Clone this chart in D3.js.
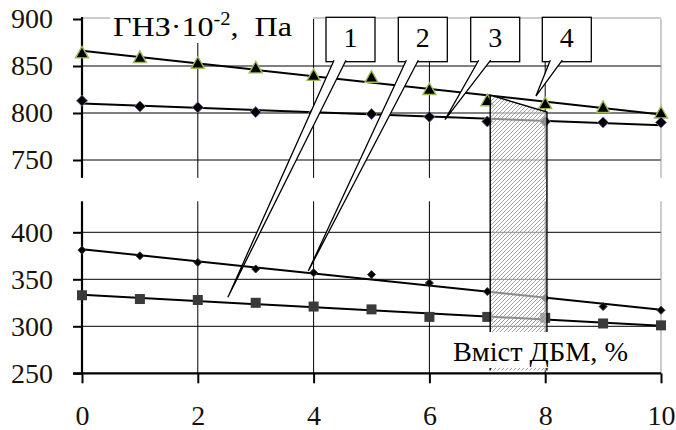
<!DOCTYPE html>
<html><head><meta charset="utf-8">
<script src="https://cdn.jsdelivr.net/npm/d3@7/dist/d3.min.js"></script>
<style>html,body{margin:0;padding:0;background:#fff}svg{display:block}</style>
</head><body>
<svg id="c" width="676" height="430"></svg>
<script>
// ---- data ----
const xValues = [0,1,2,3,4,5,6,7,8,9,10];
const series1 = [333,329,328,325,321,318,310,310,309,303,301];   // squares (1)
const series2 = [381,375,368,361,357,355,346,337,330,321,317];   // small diamonds (2)
const series3 = [813,807,806,801,800,799,796,791,791,790,790];   // diamonds (3)
const series4 = [864,859,853,848,840,838,825,813,810,806,800];   // triangles (4)
const xTicks = [0,2,4,6,8,10];
const yTicksTop = [750,800,850,900];
const yTicksBottom = [250,300,350,400];
const calloutLabels = ["1","2","3","4"];
const calloutTipX = [2.52, 3.91, 6.27, 7.84];
const calloutTipY = [331, 359, 793, 818];
const calloutTipPanel = ["bottom","bottom","top","top"];
const hatchX = [7.05, 8.03];
const hatchTop = [819, 801];
const hatchBottom = 253;
const yTitle = "ГНЗ·10";
const xTitle = "Вміст ДБМ, %";

// ---- scales ----
const x = d3.scaleLinear([0,10],[82,661]);
const yT = d3.scaleLinear([750,900],[160,19]);
const yB = d3.scaleLinear([250,400],[373.3,232.3]);
const topMin = 731, botMax = 433;

const svg = d3.select("#c");
const serif = "'Liberation Serif','Times New Roman',serif";

// gridlines
function grid(g, yScale, ticks, yLo, yHi){
  g.selectAll("line.h").data(ticks).join("line")
    .attr("x1",x(0)).attr("x2",x(10))
    .attr("y1",d=>yScale(d)).attr("y2",d=>yScale(d))
    .attr("stroke","#000").attr("stroke-width",1);
  g.selectAll("line.v").data(xTicks.slice(1)).join("line")
    .attr("x1",d=>x(d)).attr("x2",d=>x(d))
    .attr("y1",yLo).attr("y2",yHi)
    .attr("stroke",d=>d===10?"#999":"#000").attr("stroke-width",1);
}
const gT = svg.append("g");
grid(gT, yT, yTicksTop.filter(d=>d<900), yT(900), yT(topMin));
gT.append("line").attr("x1",x(0)).attr("x2",x(10)).attr("y1",yT(900)-1).attr("y2",yT(900)-1).attr("stroke","#999");
const gB = svg.append("g");
grid(gB, yB, yTicksBottom.filter(d=>d>250), yB(botMax), yB(250));

// axes
const axT = svg.append("g").attr("transform",`translate(${x(0)},0)`)
  .call(d3.axisLeft(yT).tickValues(yTicksTop).tickSize(9).tickSizeOuter(0).tickPadding(20));
axT.select(".domain").remove();
svg.append("line").attr("x1",x(0)).attr("x2",x(0)).attr("y1",yT(900)-2).attr("y2",yT(topMin)).attr("stroke","#000").attr("stroke-width",2.2);
const axB = svg.append("g").attr("transform",`translate(${x(0)},0)`)
  .call(d3.axisLeft(yB).tickValues(yTicksBottom).tickSize(9).tickSizeOuter(0).tickPadding(20));
axB.select(".domain").remove();
svg.append("line").attr("x1",x(0)).attr("x2",x(0)).attr("y1",yB(botMax)).attr("y2",yB(250)+1).attr("stroke","#000").attr("stroke-width",2.2);
const axX = svg.append("g").attr("transform",`translate(0,${yB(250)})`)
  .call(d3.axisBottom(x).tickValues(xTicks).tickSize(10).tickSizeOuter(0).tickPadding(22));
axX.select(".domain").remove();
svg.append("line").attr("x1",x(0)-9).attr("x2",x(10)).attr("y1",yB(250)).attr("y2",yB(250)).attr("stroke","#000").attr("stroke-width",2.2);
[axT,axB,axX].forEach(a=>{
  a.selectAll(".tick line").attr("stroke","#000").attr("stroke-width",2);
  a.selectAll(".tick text").attr("font-family",serif).attr("font-size",28).attr("fill","#1a1208");
});

// series
function regress(vals){
  const mx=d3.mean(xValues), my=d3.mean(vals);
  const s=d3.sum(xValues,(xx,i)=>(xx-mx)*(vals[i]-my))/d3.sum(xValues,xx=>(xx-mx)**2);
  return [[0,my-s*mx],[10,my+s*(10-mx)]];
}
function drawSeries(vals, yScale, marker){
  const r = regress(vals);
  svg.append("line").attr("x1",x(r[0][0])).attr("y1",yScale(r[0][1]))
    .attr("x2",x(r[1][0])).attr("y2",yScale(r[1][1]))
    .attr("stroke","#000").attr("stroke-width",2);
  const g = svg.append("g");
  xValues.forEach((xx,i)=>marker(g, x(xx), yScale(vals[i])));
}
const tri = (g,cx,cy)=>g.append("path").attr("d",`M${cx},${cy-6.5}L${cx+6.5},${cy+5}L${cx-6.5},${cy+5}Z`)
  .attr("fill","#000").attr("stroke","#9bbb59").attr("stroke-width",1.4);
const dia = (s,fill,stroke)=>(g,cx,cy)=>g.append("path").attr("d",`M${cx},${cy-s}L${cx+s},${cy}L${cx},${cy+s}L${cx-s},${cy}Z`)
  .attr("fill",fill).attr("stroke",stroke).attr("stroke-width",1);
const sq = (g,cx,cy)=>g.append("rect").attr("x",cx-5).attr("y",cy-5).attr("width",10).attr("height",10).attr("fill","#3a3a3a");
drawSeries(series4, yT, tri);
drawSeries(series3, yT, dia(5.5,"#000","#8064a2"));
drawSeries(series2, yB, dia(4,"#000","#333"));
drawSeries(series1, yB, sq);

// hatch area
const defs = svg.append("defs");
const pat = defs.append("pattern").attr("id","hatch").attr("patternUnits","userSpaceOnUse").attr("width",4).attr("height",4);
pat.append("rect").attr("width",4).attr("height",4).attr("fill","rgba(255,255,255,0.55)");
pat.append("path").attr("d","M-1,1L1,-1M0,4L4,0M3,5L5,3").attr("stroke","#8a8a8a").attr("stroke-width",0.8);
const hx0=x(hatchX[0]), hx1=x(hatchX[1]);
const ht0=yT(hatchTop[0]), ht1=yT(hatchTop[1]), hb=yB(hatchBottom);
svg.append("path").attr("d",`M${hx0},${ht0}L${hx1},${ht1}L${hx1},${hb}L${hx0},${hb}Z`).attr("fill","url(#hatch)");
svg.append("path").attr("d",`M${hx0},${hb}L${hx0},${ht0}L${hx1},${ht1}L${hx1},${hb}`)
  .attr("fill","none").attr("stroke","#000").attr("stroke-width",1.4);

// x title
svg.append("rect").attr("x",448).attr("y",332).attr("width",184).attr("height",36).attr("fill","#fff");
svg.append("text").attr("x",453).attr("y",361).attr("font-family",serif).attr("font-size",28)
  .attr("textLength",175).attr("lengthAdjust","spacingAndGlyphs").attr("fill","#000").text(xTitle);

// y title
svg.append("rect").attr("x",110).attr("y",5).attr("width",203).attr("height",38).attr("fill","#fff");
const yt = svg.append("text").attr("x",113).attr("y",36).attr("font-family",serif).attr("font-size",28)
  .attr("textLength",179).attr("lengthAdjust","spacingAndGlyphs").attr("fill","#000");
yt.append("tspan").text(yTitle);
yt.append("tspan").attr("dy",-11).attr("font-size",18).text("-2");
yt.append("tspan").attr("dy",11).attr("font-size",28).text(",\u00a0\u00a0Па");

// callouts
const boxLeft = [326, 398.3, 470.7, 542.3];
calloutLabels.forEach((lab,i)=>{
  const bx=boxLeft[i], by=17.3, bw=49, bh=44.4;
  svg.append("rect").attr("x",bx).attr("y",by).attr("width",bw).attr("height",bh)
    .attr("fill","#fff").attr("stroke","#000").attr("stroke-width",1.3);
  const ys = calloutTipPanel[i]==="top"?yT:yB;
  const tx=x(calloutTipX[i]), ty=ys(calloutTipY[i]);
  const b0=bx+8, b1=bx+20, bb=by+bh;
  svg.append("path").attr("d",`M${b0},${bb-1.5}L${tx},${ty}L${b1},${bb-1.5}`)
    .attr("fill","#fff").attr("stroke","#000").attr("stroke-width",1.3);
  svg.append("text").attr("x",bx+bw/2).attr("y",47).attr("text-anchor","middle")
    .attr("font-family",serif).attr("font-size",28).attr("fill","#000").text(lab);
});
</script>
</body></html>
